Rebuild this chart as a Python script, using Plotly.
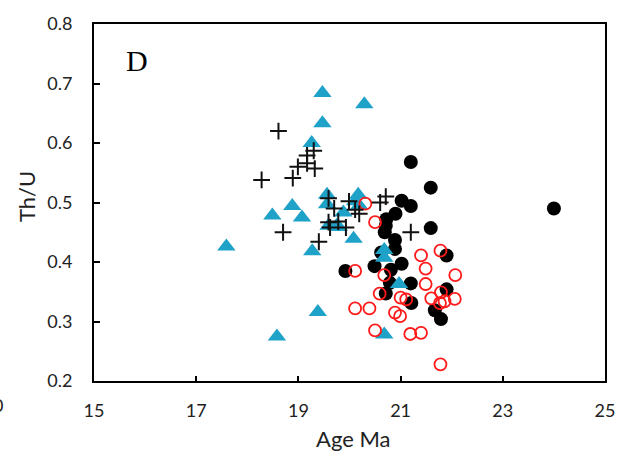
import plotly.graph_objects as go

# Series: filled black circles
black_x = [19.92, 20.49, 20.62, 20.69, 20.71, 20.72, 20.79, 20.71, 20.81, 20.89, 20.89, 20.90,
           21.02, 21.02, 21.20, 21.20, 21.20, 21.21, 21.59, 21.59, 21.90, 21.90, 21.67, 21.79, 24.00]
black_y = [0.385, 0.393, 0.416, 0.450, 0.461, 0.472, 0.365, 0.347, 0.387, 0.437, 0.422, 0.481,
           0.503, 0.397, 0.568, 0.494, 0.364, 0.331, 0.525, 0.457, 0.411, 0.354, 0.319, 0.304, 0.490]

# Series: blue triangles
tri_x = [17.59, 18.49, 18.88, 19.07, 19.26, 19.27, 18.58, 19.38, 19.47, 19.47, 20.29,
         19.56, 19.56, 19.88, 20.17, 20.11, 20.19, 19.59, 19.75, 19.79, 20.08, 20.68, 20.68, 20.97, 20.68]
tri_y = [0.426, 0.478, 0.494, 0.475, 0.600, 0.418, 0.275, 0.316, 0.684, 0.633, 0.665,
         0.513, 0.497, 0.483, 0.513, 0.502, 0.495, 0.461, 0.461, 0.459, 0.439, 0.420, 0.407, 0.363, 0.278]

# Series: red open circles
red_x = [20.31, 20.50, 20.11, 20.68, 21.40, 21.78, 21.49, 22.07, 21.49, 20.59, 21.00, 21.11, 21.60,
         21.79, 21.86, 22.06, 21.77, 20.11, 20.39, 20.89, 20.99, 20.50, 21.19, 21.40, 21.78]
red_y = [0.498, 0.467, 0.385, 0.378, 0.411, 0.419, 0.389, 0.378, 0.363, 0.347, 0.340, 0.337, 0.339,
         0.349, 0.334, 0.338, 0.331, 0.322, 0.322, 0.315, 0.309, 0.285, 0.279, 0.281, 0.228]

# Series: black crosses
cross_x = [18.28, 18.61, 18.70, 18.89, 18.99, 19.17, 19.17, 19.30, 19.32, 19.40, 19.59, 19.70,
           19.59, 19.62, 19.78, 19.93, 19.99, 20.11, 20.19, 20.60, 20.71, 21.20]
cross_y = [0.538, 0.620, 0.450, 0.541, 0.560, 0.579, 0.566, 0.587, 0.557, 0.434, 0.507, 0.490,
           0.467, 0.458, 0.468, 0.458, 0.502, 0.488, 0.481, 0.500, 0.510, 0.450]

x_ticks = [15, 17, 19, 21, 23, 25]
y_ticks = [0.2, 0.3, 0.4, 0.5, 0.6, 0.7, 0.8]

fig = go.Figure()
fig.add_trace(go.Scatter(x=black_x, y=black_y, mode="markers",
                         marker=dict(symbol="circle", size=14, color="black"), name="black"))
fig.add_trace(go.Scatter(x=tri_x, y=tri_y, mode="markers",
                         marker=dict(symbol="triangle-up", size=16, color="#1FA2C8"), name="tri"))
fig.add_trace(go.Scatter(x=red_x, y=red_y, mode="markers",
                         marker=dict(symbol="circle-open", size=12, color="#FF1A1A",
                                     line=dict(width=1.8, color="#FF1A1A")), name="red"))
fig.add_trace(go.Scatter(x=cross_x, y=cross_y, mode="markers",
                         marker=dict(symbol="cross-thin", size=12, color="black",
                                     line=dict(width=2, color="#111111")), name="cross"))

tickfont = dict(family="Lato, sans-serif", size=18, color="#222222")
fig.update_layout(
    width=627, height=454,
    margin=dict(l=94, r=19, t=15, b=73),
    paper_bgcolor="white", plot_bgcolor="white",
    showlegend=False,
    xaxis=dict(range=[15, 25], tickvals=x_ticks, ticktext=[str(v) for v in x_ticks],
               showgrid=False, zeroline=False, showline=True, linecolor="black", linewidth=2,
               mirror=True, ticks="inside", ticklen=5, tickwidth=1.5, tickcolor="black",
               tickfont=tickfont, ticklabelstandoff=12),
    yaxis=dict(range=[0.2, 0.8], tickvals=y_ticks, ticktext=[f"{v:.1f}" for v in y_ticks],
               showgrid=False, zeroline=False, showline=True, linecolor="black", linewidth=2,
               mirror=True, ticks="inside", ticklen=6, tickwidth=1.5, tickcolor="black",
               tickfont=tickfont, ticklabelstandoff=16),
)

fig.add_annotation(text="Age Ma", xref="paper", yref="paper", x=(355 - 94) / 514, y=-(440 - 381) / 366,
                   xanchor="center", yanchor="middle", showarrow=False,
                   font=dict(family="Lato, sans-serif", size=22, color="#222222"))
fig.add_annotation(text="Th/U", xref="paper", yref="paper", x=(26 - 94) / 514, y=(381 - 192) / 366,
                   xanchor="center", yanchor="middle", showarrow=False, textangle=-90,
                   font=dict(family="Lato, sans-serif", size=22, color="#222222"))
fig.add_annotation(text="D", xref="paper", yref="paper", x=(137 - 94) / 514, y=(381 - 52) / 366,
                   xanchor="center", yanchor="middle", showarrow=False,
                   font=dict(family="Liberation Serif, Times New Roman, serif", size=30, color="black"))
fig.add_annotation(text="0", xref="paper", yref="paper", x=(4 - 94) / 514, y=-(406 - 381) / 366,
                   xanchor="right", yanchor="middle", showarrow=False,
                   font=dict(family="Lato, sans-serif", size=18, color="#222222"))

fig.write_html("out.html")
